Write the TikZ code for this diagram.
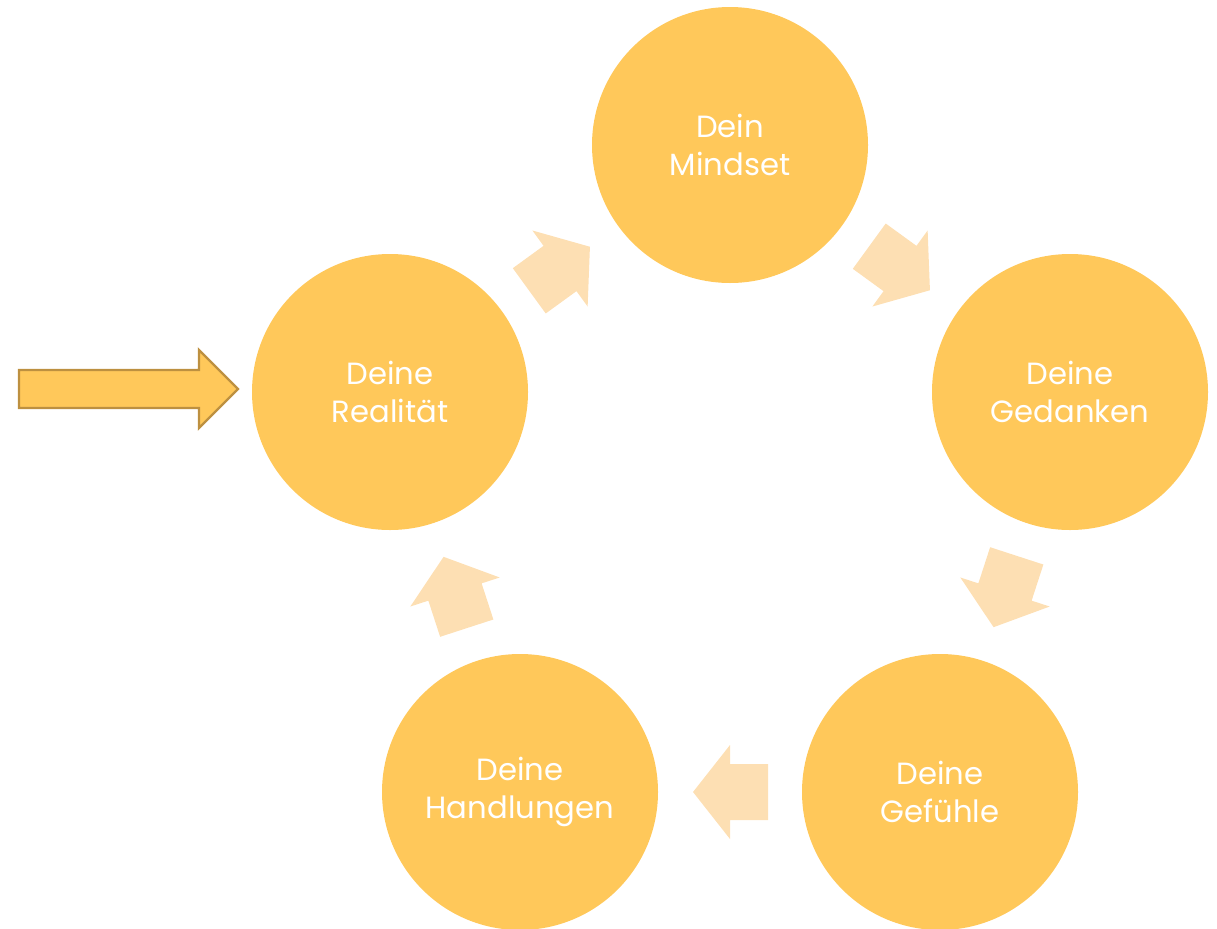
\documentclass[tikz,border=0pt]{standalone}
\usepackage{fontspec}
\setmainfont{Poppins}
\usetikzlibrary{calc}
\definecolor{circfill}{HTML}{FFC85A}
\definecolor{arrfill}{HTML}{FDDFB3}
\definecolor{bigline}{HTML}{BD9040}
\tikzset{
  stepcircle/.style={circle, fill=circfill, minimum size=276*0.75pt, inner sep=0pt,
    text=white, align=center, font=\fontsize{23}{28.5}\selectfont},
  cyclearrow/.style={fill=arrfill, draw=none},
}
\newcommand{\cyclearr}[3]{%
  \begin{scope}[shift={($(#1)!0.5!(#2)$)}, rotate=#3]
    \fill[cyclearrow] (-38,-28) -- (0,-28) -- (0,-47) -- (37,0) -- (0,47) -- (0,28) -- (-38,28) -- cycle;
  \end{scope}}
\begin{document}
\begin{tikzpicture}[x=0.75pt,y=-0.75pt]
\useasboundingbox (0,0) rectangle (1217,928);
\node[stepcircle] (mind) at (730,145) {Dein\\Mindset};
\node[stepcircle] (ged) at (1070,392) {Deine\\Gedanken};
\node[stepcircle] (gef) at (940,792) {Deine\\Gefühle};
\node[stepcircle] (hand) at (520,792) {Deine\\Handlungen};
\node[stepcircle] (real) at (390,392) {Deine\\Realität};
\cyclearr{real}{mind}{36}
\cyclearr{mind}{ged}{-36}
\cyclearr{ged}{gef}{-108}
\cyclearr{gef}{hand}{180}
\cyclearr{hand}{real}{108}
\coordinate (start) at (19,389);
\draw[fill=circfill, draw=bigline, line width=1.8pt, line join=miter]
  (start) ++(0,-19) -- (199,370) -- (199,350) -- (238,389) -- (199,428) -- (199,408) -- (19,408) -- cycle;
\end{tikzpicture}
\end{document}
